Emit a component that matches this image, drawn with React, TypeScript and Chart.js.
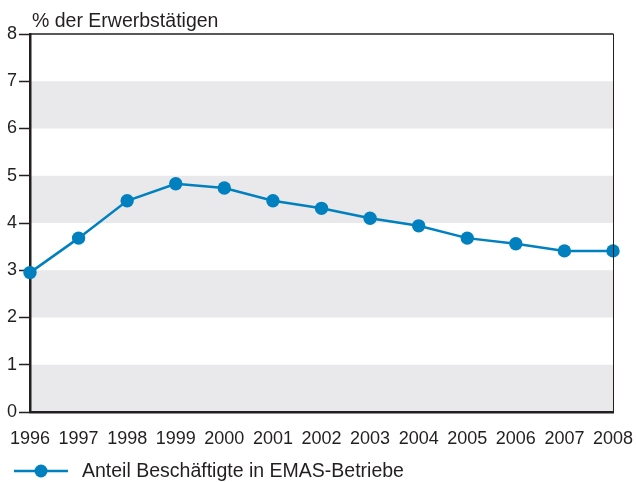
import React, { useEffect, useRef } from "react";
import { Chart, registerables } from "chart.js";

Chart.register(...registerables);

const years = ["1996", "1997", "1998", "1999", "2000", "2001", "2002", "2003", "2004", "2005", "2006", "2007", "2008"];
const shareEmas = [2.95, 3.68, 4.47, 4.83, 4.74, 4.47, 4.31, 4.1, 3.94, 3.68, 3.56, 3.41, 3.41];
const yTitle = "% der Erwerbstätigen";
const seriesLabel = "Anteil Beschäftigte in EMAS-Betriebe";
const bandRanges = [[0, 1], [2, 3], [4, 5], [6, 7]];

const LINE = "#0080be";
const INK = "#231f20";
const FONT = "'Liberation Sans', Arial, sans-serif";

const decorPlugin = {
  id: "decor",
  beforeDraw(chart: any) {
    const { ctx, chartArea, scales } = chart;
    const y = scales.y;
    ctx.save();
    ctx.fillStyle = "#e9e9eb";
    for (const [a, b] of bandRanges) {
      const top = y.getPixelForValue(b);
      const bot = y.getPixelForValue(a);
      ctx.fillRect(chartArea.left, top, chartArea.right - chartArea.left, bot - top);
    }
    ctx.restore();
  },
  afterDraw(chart: any) {
    const { ctx, chartArea } = chart;
    ctx.save();
    // top and right frame
    ctx.strokeStyle = INK;
    ctx.lineWidth = 1.5;
    ctx.beginPath();
    ctx.moveTo(chartArea.left, chartArea.top);
    ctx.lineTo(chartArea.right + 0.5, chartArea.top);
    ctx.stroke();
    ctx.lineWidth = 1;
    ctx.beginPath();
    ctx.moveTo(chartArea.right + 0.5, chartArea.top);
    ctx.lineTo(chartArea.right + 0.5, chartArea.bottom);
    ctx.stroke();
    // y title
    ctx.fillStyle = INK;
    ctx.font = `19.5px ${FONT}`;
    ctx.textAlign = "left";
    ctx.textBaseline = "alphabetic";
    ctx.fillText(yTitle, 32, 27);
    // legend
    const ly = 471;
    ctx.strokeStyle = LINE;
    ctx.lineWidth = 2.5;
    ctx.beginPath();
    ctx.moveTo(14, ly);
    ctx.lineTo(68, ly);
    ctx.stroke();
    ctx.fillStyle = LINE;
    ctx.beginPath();
    ctx.arc(41, ly, 6.5, 0, Math.PI * 2);
    ctx.fill();
    ctx.fillStyle = INK;
    ctx.fillText(seriesLabel, 82, 477);
    ctx.restore();
  },
};

export default function App() {
  const ref = useRef<HTMLCanvasElement>(null);
  useEffect(() => {
    if (!ref.current) return;
    const chart = new Chart(ref.current, {
      type: "line",
      data: {
        labels: years,
        datasets: [
          {
            label: seriesLabel,
            data: shareEmas,
            borderColor: LINE,
            backgroundColor: LINE,
            borderWidth: 2.5,
            pointRadius: 6.7,
            pointBackgroundColor: LINE,
            pointBorderWidth: 0,
            tension: 0,
            clip: false as any,
          },
        ],
      },
      options: {
        responsive: false,
        animation: false,
        layout: { padding: { top: 34, right: 23, left: 0, bottom: 0 } },
        plugins: { legend: { display: false }, tooltip: { enabled: false } },
        scales: {
          x: {
            type: "category",
            offset: false,
            grid: { display: false },
            border: { display: true, color: INK, width: 2.5 },
            ticks: { color: INK, font: { size: 18, family: FONT }, padding: 8, maxRotation: 0, autoSkip: false },
            afterFit: (s: any) => { s.height = 70; s.paddingLeft = 0; s.paddingRight = 0; },
          },
          y: {
            min: 0,
            max: 8,
            grid: { drawOnChartArea: false, drawTicks: true, tickLength: 11, tickColor: INK, tickWidth: 1.5 },
            border: { display: true, color: INK, width: 2.5 },
            ticks: { stepSize: 1, color: INK, font: { size: 18, family: FONT }, padding: 2 },
            afterFit: (s: any) => { s.width = 30; s.paddingTop = 0; s.paddingBottom = 0; },
          },
        },
      },
      plugins: [decorPlugin],
    });
    return () => chart.destroy();
  }, []);
  return (
    <div style={{ position: "absolute", left: 0, top: 0, width: 636, height: 482, background: "#fff" }}>
      <canvas ref={ref} width={636} height={482} />
    </div>
  );
}
